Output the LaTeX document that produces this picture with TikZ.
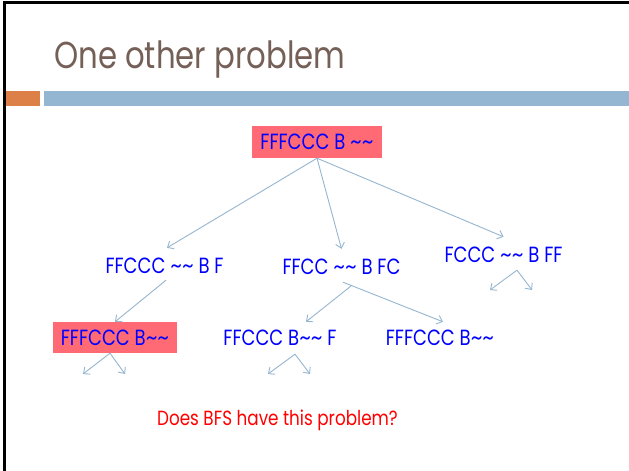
\documentclass[tikz,border=0pt]{standalone}
\usepackage{fontspec}
\setmainfont{Poppins}[FakeStretch=0.82]
\usetikzlibrary{arrows.meta}

\definecolor{titlebrown}{RGB}{117,96,87}
\definecolor{accentorange}{RGB}{221,128,71}
\definecolor{accentblue}{RGB}{148,182,210}
\definecolor{edgeblue}{RGB}{150,182,208}
\definecolor{statefill}{RGB}{255,106,116}
\definecolor{statetext}{RGB}{0,0,255}

% a slightly wider tilde pair for the boat/bank marks
\newcommand{\wv}{\scalebox{1.25}[1]{\textasciitilde\textasciitilde}}

\tikzset{
  state/.style={font=\fontsize{22}{22}\selectfont, text=statetext,
    inner sep=0pt, minimum height=36pt, anchor=center},
  repeated/.style={state, fill=statefill, minimum height=31pt},
  edge/.style={draw=edgeblue, line width=0.9pt,
    -{Straight Barb[length=5pt,width=9pt,line width=0.9pt]}},
}

\begin{document}
\begin{tikzpicture}[x=1pt,y=-1pt]
  \useasboundingbox (0,0) rectangle (629,471);
  \fill[white] (0,0) rectangle (629,471);

  % slide frame (left and top edges)
  \fill[black] (3,1) rectangle (629,4);
  \fill[black] (3,1) rectangle (6,471);

  % title and header bars
  \node[anchor=base west, inner sep=0pt, text=titlebrown,
        font=\fontsize{37.5}{37.5}\selectfont] (title) at (54,68) {One other problem};
  \fill[accentorange] (6,91) rectangle (40,106);
  \fill[accentblue] (44,91) rectangle (629,106);

  % search tree states
  \node[repeated, minimum width=130pt, minimum height=32pt] (r) at (317,142) {FFFCCC B \wv};
  \node[state] (a) at (164.5,266) {FFCCC \wv{} B F};
  \node[state] (b) at (341.5,267) {FFCC \wv{} B FC};
  \node[state] (c) at (503.5,255) {FCCC \wv{} B FF};
  \node[repeated, minimum width=124pt] (d) at (115,337.5) {FFFCCC B\wv};
  \node[state, minimum height=32pt] (e) at (280,338) {FFCCC B\wv{} F};
  \node[state, minimum height=32pt] (f) at (440,338) {FFFCCC B\wv};

  % expansions
  \draw[edge] (r.south) -- ([xshift=2.5pt]a.north);
  \draw[edge] (r.south) -- (b.north);
  \draw[edge] (r.south) -- (c.north);
  \draw[edge] ([xshift=1.5pt,yshift=4pt]a.south) -- (d.north);
  \draw[edge] ([xshift=10.5pt]b.south) -- ([xshift=26pt]e.north);
  \draw[edge] ([xshift=1.5pt,yshift=3pt]b.south) -- ([xshift=3pt]f.north);

  % further branches left unexpanded
  \coordinate (c1) at (490,290);
  \coordinate (c2) at (532,290);
  \coordinate (d1) at (83,374);
  \coordinate (d2) at (125,374);
  \coordinate (e1) at (268,374);
  \coordinate (e2) at (310,374);
  \draw[edge] ([xshift=13.5pt,yshift=3pt]c.south) -- (c1);
  \draw[edge] ([xshift=13.5pt,yshift=3pt]c.south) -- (c2);
  \draw[edge] ([xshift=-5pt]d.south) -- (d1);
  \draw[edge] ([xshift=-5pt]d.south) -- (d2);
  \draw[edge] ([xshift=15pt]e.south) -- (e1);
  \draw[edge] ([xshift=15pt]e.south) -- (e2);

  % question
  \node[text=red, font=\fontsize{20.5}{20.5}\selectfont, inner sep=0pt, anchor=base]
    (q) at (277.5,425) {Does BFS have this problem?};
\end{tikzpicture}
\end{document}
